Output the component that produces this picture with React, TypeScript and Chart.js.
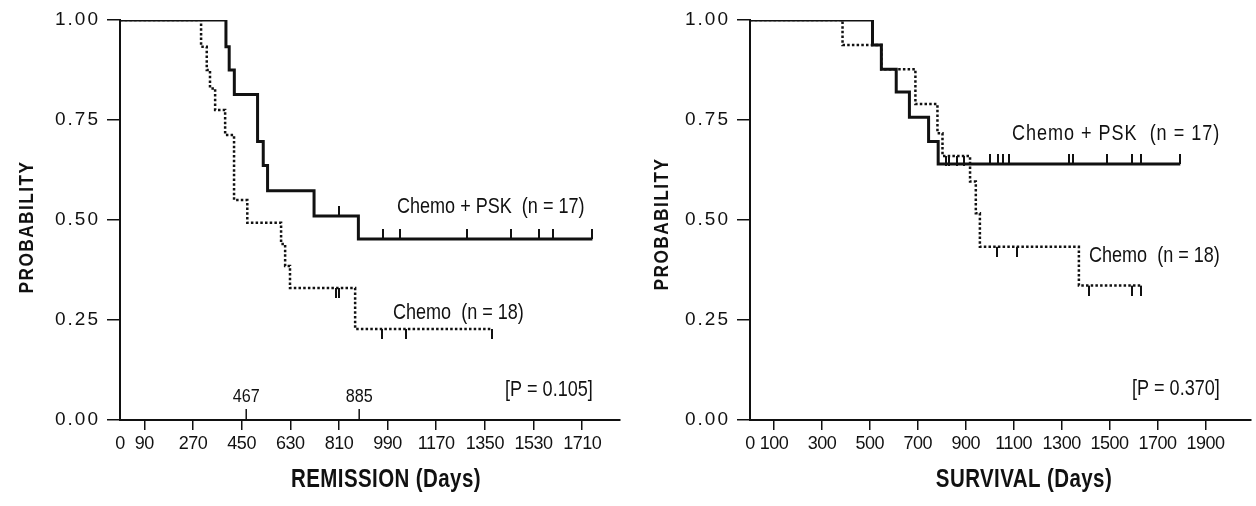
import React, { useEffect, useRef } from "react";
import { Chart, registerables } from "chart.js";

Chart.register(...registerables);

const SANS = "'Liberation Sans', Arial, Helvetica, sans-serif";
const INK = "#111";
const NARROW_X = 0.82; // horizontal compression to emulate a condensed face

// ---------------- data ----------------
const probTicks = [0, 0.25, 0.5, 0.75, 1.0];

// Remission panel
const remissionTicks = [0, 90, 270, 450, 630, 810, 990, 1170, 1350, 1530, 1710];
const remissionMedians = [467, 885];

const remPskDays = [0, 392, 404, 423, 509, 530, 546, 718, 882];
const remPskProb = [1.0, 0.933, 0.875, 0.814, 0.696, 0.636, 0.573, 0.51, 0.4525];
const remPskEnd = 1748;
const remPskCensored = [810, 974, 1036, 1283, 1446, 1551, 1603, 1748];

const remChemoDays = [0, 300, 321, 333, 352, 389, 422, 471, 596, 611, 629, 870];
const remChemoProb = [1.0, 0.933, 0.875, 0.829, 0.775, 0.7125, 0.55, 0.493, 0.44, 0.385, 0.33, 0.2275];
const remChemoEnd = 1375;
const remChemoCensored = [799, 810, 969, 1057, 1375];

// Survival panel
const survivalTicks = [0, 100, 300, 500, 700, 900, 1100, 1300, 1500, 1700, 1900];

const survPskDays = [0, 511, 548, 610, 665, 745, 785];
const survPskProb = [1.0, 0.9375, 0.877, 0.82, 0.757, 0.696, 0.64];
const survPskEnd = 1795;
const survPskCensored = [1001, 1034, 1055, 1079, 1331, 1349, 1491, 1593, 1632, 1795];

const survChemoDays = [0, 386, 548, 690, 782, 803, 918, 942, 959, 1372];
const survChemoProb = [1.0, 0.9375, 0.877, 0.79, 0.717, 0.66, 0.596, 0.517, 0.433, 0.336];
const survChemoEnd = 1632;
const survChemoCensored = [818, 831, 864, 893, 1031, 1114, 1414, 1593, 1632];

// ---------------- helpers ----------------
type Pt = { x: number; y: number };

function stepPoints(days: number[], probs: number[], end: number): Pt[] {
  const pts = days.map((d, i) => ({ x: d, y: probs[i] }));
  pts.push({ x: end, y: probs[probs.length - 1] });
  return pts;
}

function levelAt(days: number[], probs: number[], t: number): number {
  let v = probs[0];
  for (let i = 0; i < days.length; i++) if (days[i] <= t) v = probs[i];
  return v;
}

function censorPoints(days: number[], probs: number[], cens: number[]): Pt[] {
  return cens.map((t) => ({ x: t, y: levelAt(days, probs, t) }));
}

function tickImage(up: boolean): HTMLCanvasElement {
  const L = 10;
  const c = document.createElement("canvas");
  c.width = 2;
  c.height = 2 * L;
  const g = c.getContext("2d")!;
  g.fillStyle = INK;
  if (up) g.fillRect(0, 0, 2, L);
  else g.fillRect(0, L, 2, L);
  return c;
}

type TextItem = {
  text: string;
  x: number;
  y: number;
  size: number;
  weight?: string;
  align?: CanvasTextAlign;
  spacing?: number;
  rotate?: boolean;
  sx?: number;
};

type Spec = {
  width: number;
  left: number;
  xMax: number;
  padRight: number;
  xTicks: number[];
  psk: { days: number[]; probs: number[]; end: number; cens: number[] };
  chemo: { days: number[]; probs: number[]; end: number; cens: number[] };
  medians: number[];
  texts: TextItem[];
};

// y tick labels (drawn before datasets) are letter-spaced; x tick labels (z:1, after datasets) slightly tightened
const spacingPlugin = {
  id: "labelSpacing",
  beforeDraw(chart: any) {
    chart.ctx.letterSpacing = "2px";
  },
  beforeDatasetsDraw(chart: any) {
    chart.ctx.letterSpacing = "-0.5px";
  },
  afterDraw(chart: any) {
    chart.ctx.letterSpacing = "0px";
  },
};

function drawText(ctx: any, t: TextItem) {
  ctx.save();
  ctx.font = `${t.weight || "normal"} ${t.size}px ${SANS}`;
  ctx.letterSpacing = `${t.spacing || 0}px`;
  ctx.textAlign = t.align || "left";
  ctx.textBaseline = "middle";
  ctx.translate(t.x, t.y);
  if (t.rotate) ctx.rotate(-Math.PI / 2);
  ctx.scale(t.sx ?? NARROW_X, 1);
  ctx.fillText(t.text, 0, 0);
  ctx.restore();
}

function makeTextPlugin(spec: Spec) {
  return {
    id: "annotations",
    afterDraw(chart: any) {
      const ctx: any = chart.ctx;
      const xs = chart.scales.x;
      const bottom = chart.chartArea.bottom;
      ctx.save();
      ctx.fillStyle = INK;
      ctx.strokeStyle = INK;
      ctx.lineWidth = 1.5;
      spec.medians.forEach((m) => {
        const px = xs.getPixelForValue(m);
        ctx.beginPath();
        ctx.moveTo(px, bottom);
        ctx.lineTo(px, bottom - 11);
        ctx.stroke();
        drawText(ctx, { text: String(m), x: px, y: bottom - 23, size: 18, align: "center", sx: 0.9 });
      });
      spec.texts.forEach((t) => drawText(ctx, t));
      ctx.restore();
    },
  };
}

function Panel({ spec }: { spec: Spec }) {
  const ref = useRef<HTMLCanvasElement | null>(null);
  useEffect(() => {
    const canvas = ref.current;
    if (!canvas) return;
    const up = tickImage(true);
    const down = tickImage(false);
    const chart = new Chart(canvas, {
      type: "line",
      data: {
        datasets: [
          {
            label: "Chemo + PSK",
            data: stepPoints(spec.psk.days, spec.psk.probs, spec.psk.end),
            stepped: true,
            borderColor: INK,
            borderWidth: 3,
            pointRadius: 0,
            fill: false,
          },
          {
            label: "Chemo",
            data: stepPoints(spec.chemo.days, spec.chemo.probs, spec.chemo.end),
            stepped: true,
            borderColor: INK,
            borderWidth: 2.5,
            borderDash: [2.5, 2.2],
            pointRadius: 0,
            fill: false,
          },
          {
            label: "Chemo + PSK censored",
            data: censorPoints(spec.psk.days, spec.psk.probs, spec.psk.cens),
            showLine: false,
            pointStyle: up as any,
            pointRadius: 4,
          },
          {
            label: "Chemo censored",
            data: censorPoints(spec.chemo.days, spec.chemo.probs, spec.chemo.cens),
            showLine: false,
            pointStyle: down as any,
            pointRadius: 4,
          },
        ] as any,
      },
      options: {
        animation: false,
        responsive: false,
        maintainAspectRatio: false,
        layout: { padding: { top: 20, right: spec.padRight, bottom: 0, left: 0 } },
        plugins: { legend: { display: false }, tooltip: { enabled: false } },
        scales: {
          x: {
            type: "linear",
            min: 0,
            max: spec.xMax,
            afterBuildTicks: (s: any) => {
              s.ticks = spec.xTicks.map((v) => ({ value: v }));
            },
            afterFit: (s: any) => {
              s.height = 86;
            },
            ticks: {
              font: { family: SANS, size: 18 },
              color: INK,
              padding: 3,
              maxRotation: 0,
              autoSkip: false,
              z: 1,
              callback: (v: any) => String(v),
            },
            grid: {
              drawOnChartArea: false,
              tickLength: 10,
              tickWidth: 1.5,
              lineWidth: 1.5,
              tickColor: (c: any) => (c.tick && c.tick.value === 0 ? "rgba(0,0,0,0)" : INK),
            },
            border: { display: true, width: 2, color: INK },
          },
          y: {
            type: "linear",
            min: 0,
            max: 1,
            afterBuildTicks: (s: any) => {
              s.ticks = probTicks.map((v) => ({ value: v }));
            },
            afterFit: (s: any) => {
              s.width = 120;
            },
            ticks: {
              font: { family: SANS, size: 19 },
              color: INK,
              padding: 7,
              callback: (v: any) => Number(v).toFixed(2),
            },
            grid: {
              drawOnChartArea: false,
              tickLength: 13,
              tickWidth: 1.5,
              lineWidth: 1.5,
              tickColor: INK,
            },
            border: { display: true, width: 2, color: INK },
          },
        },
      } as any,
      plugins: [spacingPlugin as any, makeTextPlugin(spec) as any],
    });
    return () => chart.destroy();
  }, [spec]);
  return (
    <canvas
      ref={ref}
      width={spec.width}
      height={506}
      style={{ position: "absolute", left: spec.left, top: 0, width: spec.width, height: 506 }}
    />
  );
}

const remissionSpec: Spec = {
  width: 628,
  left: 0,
  xMax: 1850,
  padRight: 8,
  xTicks: remissionTicks,
  psk: { days: remPskDays, probs: remPskProb, end: remPskEnd, cens: remPskCensored },
  chemo: { days: remChemoDays, probs: remChemoProb, end: remChemoEnd, cens: remChemoCensored },
  medians: remissionMedians,
  texts: [
    { text: "Chemo + PSK  (n = 17)", x: 397, y: 207, size: 22 },
    { text: "Chemo  (n = 18)", x: 393, y: 313, size: 22 },
    { text: "[P = 0.105]", x: 505, y: 390, size: 22 },
    { text: "PROBABILITY", x: 27.5, y: 227, size: 21, weight: "bold", spacing: 1.8, align: "center", rotate: true },
    { text: "REMISSION (Days)", x: 386, y: 480, size: 25, weight: "bold", align: "center", spacing: 0.5 },
  ],
};

const survivalSpec: Spec = {
  width: 626,
  left: 630,
  xMax: 2090,
  padRight: 2,
  xTicks: survivalTicks,
  psk: { days: survPskDays, probs: survPskProb, end: survPskEnd, cens: survPskCensored },
  chemo: { days: survChemoDays, probs: survChemoProb, end: survChemoEnd, cens: survChemoCensored },
  medians: [],
  texts: [
    { text: "Chemo + PSK  (n = 17)", x: 382, y: 134, size: 22, spacing: 1.2 },
    { text: "Chemo  (n = 18)", x: 459, y: 256, size: 22 },
    { text: "[P = 0.370]", x: 502, y: 389, size: 22 },
    { text: "PROBABILITY", x: 32.5, y: 224, size: 21, weight: "bold", spacing: 1.8, align: "center", rotate: true },
    { text: "SURVIVAL (Days)", x: 394, y: 480, size: 25, weight: "bold", align: "center", spacing: 0.5 },
  ],
};

export default function App() {
  return (
    <div style={{ position: "absolute", left: 0, top: 0, width: 1256, height: 506, background: "#fff" }}>
      <Panel spec={remissionSpec} />
      <Panel spec={survivalSpec} />
    </div>
  );
}
